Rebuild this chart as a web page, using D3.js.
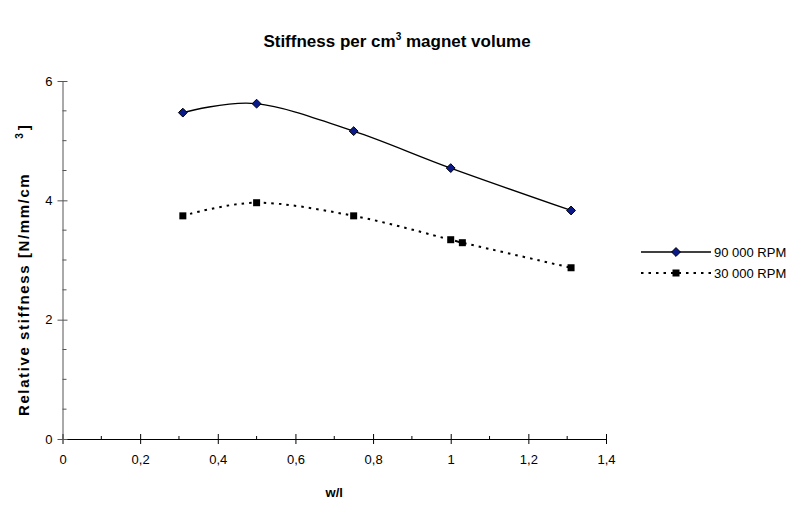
<!DOCTYPE html>
<html>
<head>
<meta charset="utf-8">
<script src="https://cdn.jsdelivr.net/npm/d3@7"></script>
<style>
	body { margin: 0; background: #fff; }
	text { font-family: "Liberation Sans", Arial, sans-serif; fill: #000; }
</style>
</head>
<body>
<div id="chart"></div>
<script>

///////////////////////////////////////////////////////////////////////////
///////////////////////////////// Data ////////////////////////////////////
///////////////////////////////////////////////////////////////////////////

var seriesNames = ["90 000 RPM", "30 000 RPM"];
var ratio90 = [0.31, 0.5, 0.75, 1.0, 1.31];
var stiff90 = [5.47, 5.62, 5.16, 4.54, 3.83];
var ratio30 = [0.31, 0.5, 0.75, 1.0, 1.03, 1.31];
var stiff30 = [3.74, 3.96, 3.74, 3.34, 3.29, 2.87];
var xTicks = [0, 0.2, 0.4, 0.6, 0.8, 1, 1.2, 1.4];
var yTicks = [0, 2, 4, 6];

///////////////////////////////////////////////////////////////////////////
//////////////////// Set up and initiate svg containers ///////////////////
///////////////////////////////////////////////////////////////////////////

var width = 795, height = 508;
var margin = { top: 81, right: 189, bottom: 69, left: 62.5 };

var svg = d3.select("#chart").append("svg")
	.attr("width", width)
	.attr("height", height);

var x = d3.scaleLinear().domain([0, 1.4]).range([margin.left, width - margin.right]);
var y = d3.scaleLinear().domain([0, 6]).range([height - margin.bottom, margin.top]);

//Title
var title = svg.append("text")
	.attr("x", 397)
	.attr("y", 47)
	.style("text-anchor", "middle")
	.style("font-size", "17px")
	.style("font-weight", "bold");
title.append("tspan").text("Stiffness per cm");
title.append("tspan").attr("dy", -7).style("font-size", "10px").text("3");
title.append("tspan").attr("dy", 7).text(" magnet volume");

///////////////////////////////////////////////////////////////////////////
/////////////////////////////////// Axes //////////////////////////////////
///////////////////////////////////////////////////////////////////////////

var fmt = function(d) { return String(d).replace(".", ","); };

//minor ticks (inside only)
svg.append("g")
	.selectAll("line")
	.data([0.1, 0.3, 0.5, 0.7, 0.9, 1.1, 1.3])
	.enter().append("line")
	.attr("x1", function(d) { return x(d); })
	.attr("x2", function(d) { return x(d); })
	.attr("y1", y(0))
	.attr("y2", y(0) - 3)
	.style("stroke", "#000");

svg.append("g")
	.selectAll("line")
	.data([0.5, 1, 1.5, 2.5, 3, 3.5, 4.5, 5, 5.5])
	.enter().append("line")
	.attr("x1", x(0))
	.attr("x2", x(0) + 4)
	.attr("y1", function(d) { return y(d); })
	.attr("y2", function(d) { return y(d); })
	.style("stroke", "#555");

var xAxis = svg.append("g")
	.attr("transform", "translate(0," + y(0) + ")")
	.call(d3.axisBottom(x).tickValues(xTicks).tickFormat(fmt).tickSizeInner(5).tickSizeOuter(0));
xAxis.select(".domain").style("stroke", "#000");
xAxis.selectAll(".tick line").attr("y1", -5).style("stroke", "#000");
xAxis.selectAll(".tick text").attr("y", 16).style("font-size", "13px");

var yAxis = svg.append("g")
	.attr("transform", "translate(" + x(0) + ",0)")
	.call(d3.axisLeft(y).tickValues(yTicks).tickFormat(fmt).tickSizeInner(5).tickSizeOuter(0));
yAxis.select(".domain").style("stroke", "#555");
yAxis.selectAll(".tick line").attr("x1", 5).style("stroke", "#555");
yAxis.selectAll(".tick text").attr("x", -10).style("font-size", "13px");

//Axis titles
svg.append("text")
	.attr("x", (x(0) + x(1.4)) / 2)
	.attr("y", 497)
	.style("text-anchor", "middle")
	.style("font-size", "13px")
	.style("font-weight", "bold")
	.text("w/l");

var yTitle = svg.append("text")
	.attr("transform", "translate(29,416) rotate(-90)")
	.style("text-anchor", "start")
	.style("font-size", "15px")
	.style("font-weight", "bold");
yTitle.append("tspan").style("letter-spacing", "1.6px").text("Relative stiffness [N/mm/cm");
yTitle.append("tspan").attr("dx", 34).attr("dy", -6).style("font-size", "10px").text("3");
yTitle.append("tspan").attr("dx", 3).attr("dy", 6).text("]");

///////////////////////////////////////////////////////////////////////////
////////////////////////////////// Lines //////////////////////////////////
///////////////////////////////////////////////////////////////////////////

var data90 = ratio90.map(function(d, i) { return [d, stiff90[i]]; });
var data30 = ratio30.map(function(d, i) { return [d, stiff30[i]]; });

var line = d3.line()
	.x(function(d) { return x(d[0]); })
	.y(function(d) { return y(d[1]); })
	.curve(d3.curveCatmullRom.alpha(0));

svg.append("path")
	.datum(data30)
	.attr("d", line)
	.style("fill", "none")
	.style("stroke", "#000")
	.style("stroke-width", 2)
	.style("stroke-dasharray", "2.5,5");

svg.append("path")
	.datum(data90)
	.attr("d", line)
	.style("fill", "none")
	.style("stroke", "#000")
	.style("stroke-width", 1.3);

var diamond = d3.symbol().type(d3.symbolDiamond2).size(50);

svg.append("g").selectAll("path")
	.data(data90)
	.enter().append("path")
	.attr("d", diamond)
	.attr("transform", function(d) { return "translate(" + x(d[0]) + "," + y(d[1]) + ")"; })
	.style("fill", "#0a1a8a")
	.style("stroke", "#000")
	.style("stroke-width", 1);

svg.append("g").selectAll("rect")
	.data(data30)
	.enter().append("rect")
	.attr("x", function(d) { return x(d[0]) - 3.5; })
	.attr("y", function(d) { return y(d[1]) - 3.5; })
	.attr("width", 7)
	.attr("height", 7)
	.style("fill", "#000");

///////////////////////////////////////////////////////////////////////////
////////////////////////////////// Legend /////////////////////////////////
///////////////////////////////////////////////////////////////////////////

var legendY = [252, 273];
var legend = svg.append("g").attr("class", "legend");

legend.append("line")
	.attr("x1", 641).attr("x2", 711)
	.attr("y1", legendY[0]).attr("y2", legendY[0])
	.style("stroke", "#000").style("stroke-width", 1.3);
legend.append("path")
	.attr("d", diamond)
	.attr("transform", "translate(676," + legendY[0] + ")")
	.style("fill", "#0a1a8a").style("stroke", "#000");

legend.append("line")
	.attr("x1", 641).attr("x2", 711)
	.attr("y1", legendY[1]).attr("y2", legendY[1])
	.style("stroke", "#000").style("stroke-width", 2)
	.style("stroke-dasharray", "2.5,5");
legend.append("rect")
	.attr("x", 672.5).attr("y", legendY[1] - 3.5)
	.attr("width", 7).attr("height", 7)
	.style("fill", "#000");

legend.selectAll("text")
	.data(seriesNames)
	.enter().append("text")
	.attr("x", 714)
	.attr("y", function(d, i) { return legendY[i] + 5; })
	.style("font-size", "13px")
	.text(function(d) { return d; });

</script>
</body>
</html>
